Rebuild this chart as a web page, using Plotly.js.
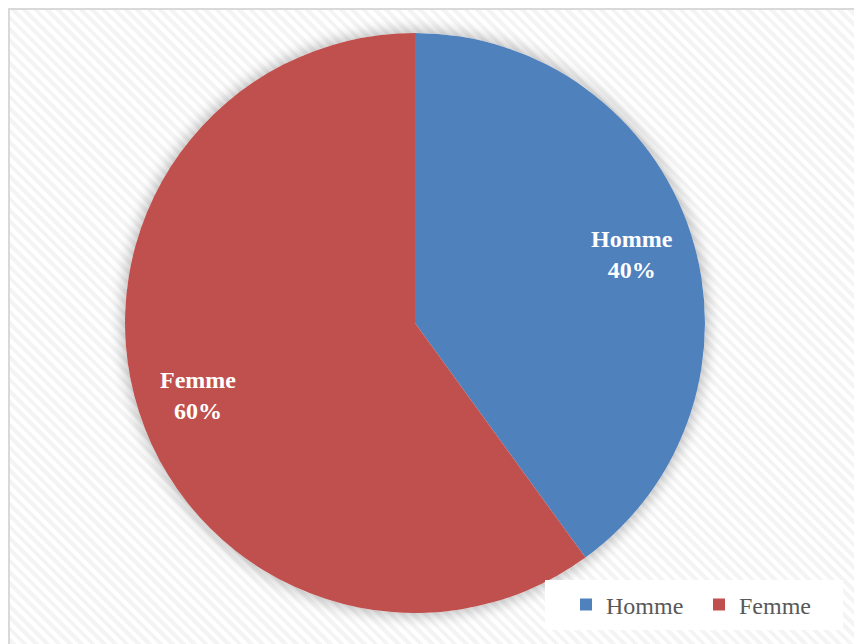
<!DOCTYPE html>
<html>
<head>
<meta charset="utf-8">
<script src="https://cdn.plot.ly/plotly-3.0.1.min.js"></script>
<style>
  html, body { margin: 0; padding: 0; background: #ffffff; }
  #stage { position: relative; width: 854px; height: 644px; overflow: hidden; }
  #frame {
    position: absolute; left: 8px; top: 8px; width: 860px; height: 650px;
    border-left: 2px solid #d9d9d9; border-top: 2px solid #d9d9d9;
    background: repeating-linear-gradient(45deg, #ffffff 0px, #ffffff 4px, #f4f4f4 4px, #f4f4f4 8px);
  }
  #halo {
    position: absolute; left: 125px; top: 33px; width: 580px; height: 580px;
    border-radius: 50%; box-shadow: 0 0 14px 3px rgba(0,0,0,0.25);
  }
  #chart { position: absolute; left: 0; top: 0; width: 854px; height: 644px; }
</style>
</head>
<body>
<div id="stage">
  <div id="frame"></div>
  <div id="halo"></div>
  <div id="chart"></div>
</div>
<script>
// Répartition par sexe
const categories = ['Homme', 'Femme'];
const shares = [40, 60];
const sliceColors = ['#4F81BD', '#C0504D'];

const W = 854, H = 644;
const cx = 415, cy = 323, R = 290;

// In-slice labels, placed on each slice's mid-angle (clockwise from 12 o'clock)
const total = shares.reduce((a, b) => a + b, 0);
let acc = 0;
const labels = categories.map((name, i) => {
  const mid = (acc + shares[i] / 2) / total * 2 * Math.PI;
  acc += shares[i];
  const r = R * 0.785;
  const px = cx + r * Math.sin(mid);
  const py = cy - r * Math.cos(mid) + 2;
  return {
    xref: 'paper', yref: 'paper',
    x: px / W, y: 1 - py / H,
    xanchor: 'center', yanchor: 'middle',
    showarrow: false,
    text: '<b>' + name + '<br>' + Math.round(shares[i] / total * 100) + '%</b>',
    font: { family: 'Liberation Serif', size: 24, color: '#ffffff' }
  };
});

const trace = {
  type: 'pie',
  labels: categories,
  values: shares,
  sort: false,
  direction: 'clockwise',
  rotation: 0,
  textinfo: 'none',
  hoverinfo: 'skip',
  marker: { colors: sliceColors, line: { width: 0 } },
  domain: { x: [(cx - R) / W, (cx + R) / W], y: [1 - (cy + R) / H, 1 - (cy - R) / H] }
};

const layout = {
  width: W, height: H,
  margin: { l: 0, r: 0, t: 0, b: 0 },
  paper_bgcolor: 'rgba(0,0,0,0)',
  plot_bgcolor: 'rgba(0,0,0,0)',
  showlegend: true,
  legend: {
    orientation: 'h',
    x: 566 / W, xanchor: 'left',
    y: 1 - 605 / H, yanchor: 'middle',
    bgcolor: 'rgba(0,0,0,0)',
    font: { family: 'Liberation Serif', size: 24, color: '#595959' },
    entrywidth: 88, entrywidthmode: 'pixels',
    traceorder: 'normal'
  },
  shapes: [{
    type: 'rect', xref: 'paper', yref: 'paper', layer: 'above',
    x0: 545 / W, x1: 843 / W, y0: 1 - 630 / H, y1: 1 - 580 / H,
    fillcolor: '#ffffff', line: { width: 0 }
  }],
  annotations: labels
};

Plotly.newPlot('chart', [trace], layout, { displayModeBar: false, staticPlot: true });
</script>
</body>
</html>
